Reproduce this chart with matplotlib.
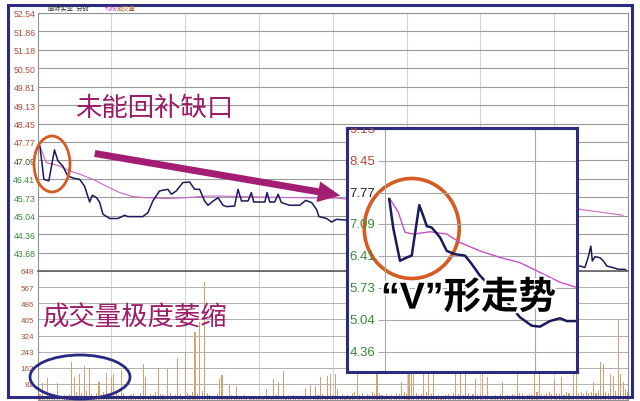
import matplotlib
matplotlib.use('Agg')
import matplotlib.pyplot as plt
import matplotlib.patheffects as pe
from matplotlib.patches import Ellipse, Rectangle, FancyArrowPatch

plt.rcParams['font.family'] = ['Liberation Sans', 'Noto Sans CJK SC', 'DejaVu Sans']

W, H = 640, 402

# ---- main chart (minute, price) ----
price_min = [1, 2.6, 4.6, 6.9, 8.3, 10.3, 12.3, 15.1, 17.1, 19.1, 21.2, 22.3, 23.9, 25.2,
             26.6, 29.3, 32.7, 35.4, 36.7, 42.8, 44.9, 46.9, 49.6, 53.0, 54.4, 56.4, 59.1,
             61.8, 63.9, 65.9, 67.9, 69.3, 71.3, 73.4, 75.4, 76.8, 80.1, 81.5, 82.9, 85.6,
             86.9, 87.9, 92.4, 93.3, 94.4, 96.4, 97.8, 99.1, 102.5, 106.6, 109.0, 111.4,
             113.4, 114.4, 117.5, 119.5, 121.5, 125.6, 140, 160, 180, 200, 220.5, 222.5,
             223.8, 224.9, 225.5, 226.6, 228.6, 230.0, 231.4, 234.1, 236.1, 238.8, 239.5]
price_val = [47.60, 46.39, 46.33, 47.48, 47.07, 46.88, 46.51, 46.42, 46.39, 46.14, 45.55,
             45.80, 45.72, 45.55, 45.10, 44.94, 44.94, 45.06, 45.01, 45.01, 45.16, 45.59,
             45.96, 46.02, 45.84, 45.96, 46.27, 46.29, 46.02, 46.02, 45.59, 45.43, 45.58,
             45.71, 45.43, 45.38, 45.40, 46.02, 45.59, 45.59, 45.90, 45.55, 45.55, 45.90,
             45.55, 45.55, 45.84, 45.53, 45.43, 45.43, 45.61, 45.53, 45.28, 45.01, 44.94,
             44.81, 44.91, 44.88, 44.60, 44.20, 43.90, 43.50, 43.18, 43.13, 43.50, 43.92,
             43.37, 43.53, 43.49, 43.37, 43.18, 43.12, 43.06, 43.06, 43.00]
avg_min = [1, 3.5, 6.2, 9.0, 13.0, 17.1, 22.5, 27.9, 33.4, 38.8, 44.2, 52.4, 60.5, 68.6,
           74.0, 98.5, 122.9, 125.6, 160, 200, 220.5, 238]
avg_val = [47.61, 47.01, 46.95, 46.88, 46.70, 46.58, 46.39, 46.14, 45.90, 45.75, 45.71,
           45.68, 45.71, 45.77, 45.77, 45.72, 45.69, 45.65, 45.45, 45.32, 45.28, 45.06]

price_ticks = [52.54, 51.86, 51.18, 50.50, 49.81, 49.13, 48.45, 47.77, 47.09, 46.41,
               45.73, 45.04, 44.36, 43.68]
vol_ticks = [648, 567, 486, 405, 324, 243, 162, 81]

volume = [141, 30, 85, 20, 110, 25, 15, 30, 85, 20,
          15, 25, 10, 30, 191, 115, 40, 130, 35, 171,
          45, 161, 30, 20, 35, 90, 25, 40, 136, 30,
          115, 130, 45, 25, 151, 35, 20, 15, 25, 30,
          20, 15, 35, 181, 115, 20, 30, 25, 40, 161,
          30, 25, 20, 156, 35, 15, 25, 211, 30, 20,
          236, 35, 25, 40, 341, 30, 392, 45, 592, 35,
          25, 15, 20, 30, 105, 125, 20, 15, 75, 25,
          20, 70, 15, 10, 25, 15, 20, 10, 15, 20,
          10, 15, 20, 55, 15, 20, 105, 25, 90, 15,
          146, 20, 15, 10, 25, 20, 15, 10, 20, 60,
          15, 75, 20, 70, 25, 115, 30, 20, 120, 130,
          25, 130, 55, 20, 30, 15, 25, 20, 35, 40,
          160, 25, 35, 20, 30, 25, 40, 30, 170, 35,
          25, 20, 30, 15, 25, 20, 35, 30, 90, 40,
          30, 180, 200, 160, 35, 25, 30, 150, 40, 175,
          30, 165, 20, 25, 15, 20, 25, 30, 20, 35,
          190, 30, 160, 25, 150, 35, 20, 30, 105, 25,
          30, 170, 25, 115, 20, 15, 25, 20, 30, 90,
          20, 25, 15, 30, 25, 150, 35, 30, 20, 25,
          30, 25, 175, 40, 155, 30, 25, 35, 40, 30,
          105, 35, 30, 115, 25, 40, 35, 20, 160, 150,
          35, 40, 30, 45, 35, 40, 90, 35, 45, 191,
          181, 40, 35, 130, 120, 45, 407, 130, 90, 55,
          40]

# ---- inset chart ----
inset_min = [1.7, 3.3, 6.0, 8.7, 10.7, 13.7, 15.3, 16.7, 18.7, 22.0, 24.7, 28.0, 32.0,
             34.7, 38.0, 42.0, 46.0, 50.0, 54.0, 58.7, 62.0, 66.0, 70.0, 72.7, 76.7]
inset_val = [7.63, 7.01, 6.31, 6.38, 6.42, 7.50, 7.27, 7.05, 7.02, 6.81, 6.52, 6.45, 6.42,
             6.24, 5.99, 5.77, 5.63, 5.35, 5.10, 4.92, 4.90, 5.02, 5.08, 5.02, 5.02]
inset_avg_min = [2, 5.3, 8, 11.3, 18, 24.7, 30, 38, 46, 54, 62, 70, 76.7]
inset_avg_val = [7.63, 7.35, 6.92, 6.88, 6.93, 6.88, 6.70, 6.52, 6.38, 6.27, 6.06, 5.85, 5.74]
inset_ticks = [9.13, 8.45, 7.77, 7.09, 6.41, 5.73, 5.04, 4.36]


def box(x0, y0, x1, y1):
    return [x0 / W, 1 - y1 / H, (x1 - x0) / W, (y1 - y0) / H]


def fp(x, y):
    return (x / W, 1 - y / H)


fig = plt.figure(figsize=(6.4, 4.02), dpi=100)
fig.patch.set_facecolor('white')

# price panel
ax = fig.add_axes(box(37.5, 14, 628, 272))
ax.plot(avg_min, avg_val, color='#c866c8', lw=0.8)
ax.plot(price_min, price_val, color='#1a1a5a', lw=1.1)
ax.set_xlim(0, 240)
ax.set_ylim(52.54 - 14 * 0.6815, 52.54)
ax.set_yticks(price_ticks)
ax.set_yticklabels(['%.2f' % v for v in price_ticks], fontsize=6.3)
for lab, v in zip(ax.get_yticklabels(), price_ticks):
    lab.set_color('#b04a3c' if v > 47.5 else ('#4a4a20' if v > 47 else '#3c8a3c'))
ax.set_xticks(range(30, 240, 30))
ax.set_xticklabels([])
ax.tick_params(length=0, pad=1.5)
ax.grid(axis='y', color='#9a9a9a', lw=0.8)
ax.grid(axis='x', color='#d4d4d4', lw=0.8)
for s in ax.spines.values():
    s.set_color('#909090')
ax.set_axisbelow(True)

# volume panel
av = fig.add_axes(box(37.5, 272, 628, 401))
av.bar(range(len(volume)), volume, width=0.45, color='#d6a272')
av.set_xlim(0, 240)
av.set_ylim(0, 648)
av.set_yticks(vol_ticks)
av.set_yticklabels([str(v) for v in vol_ticks], fontsize=5.8, color='#a0523a')
av.set_xticks(range(30, 240, 30))
av.set_xticklabels([])
av.tick_params(length=0, pad=2.5)
av.grid(axis='y', color='#b0b0b0', lw=0.7)
av.grid(axis='x', color='#d4d4d4', lw=0.8)
av.set_axisbelow(True)
for s in av.spines.values():
    s.set_color('#909090')
av.spines['top'].set_color('#606060')
av.spines['top'].set_linewidth(1.2)

# header text (tiny)
fig.text(48 / W, 1 - 9 / H, '国际实业  分时', fontsize=4.5, color='#303030', va='center')
fig.text(105 / W, 1 - 9 / H, '均线', fontsize=4.5, color='#c040c0', va='center')
fig.text(117 / W, 1 - 9 / H, '成交量', fontsize=4.5, color='#b06030', va='center')

# inset
ai = fig.add_axes(box(347, 129, 577, 373))
ai.set_facecolor('white')
ai.set_xlim(-15.2, 76.8)
ai.set_ylim(3.93, 9.15)
ai.hlines(inset_ticks, -3, 76.8, color='#a8a8a8', lw=0.8)
ai.axvline(0, color='#a8a8a8', lw=0.8)
ai.axvline(60, color='#a8a8a8', lw=0.8)
ai.plot(inset_avg_min, inset_avg_val, color='#c850c8', lw=1.0)
ai.plot(inset_min, inset_val, color='#1a1a5a', lw=1.8)
for v in inset_ticks:
    c = '#b84a3a' if v > 8 else ('#202020' if v > 7.5 else '#3a8a3a')
    ai.text(-14.2, v, '%.2f' % v, fontsize=9.5, color=c, va='center', ha='left', clip_on=True)
ai.set_xticks([])
ai.set_yticks([])
for s in ai.spines.values():
    s.set_color('#2b2b80')
    s.set_linewidth(2.2)
ai.text(-1.6, 5.5, '“V”形走势', fontsize=27, fontweight='bold', color='black', va='center',
        ha='left', path_effects=[pe.withStroke(linewidth=3, foreground='white')])
ai.add_patch(Ellipse((10.7, 7.0), 95 / 2.5, 100 / 46.75, fill=False,
                     edgecolor='#d65a22', lw=2.6, clip_on=False))

# annotations in figure coordinates
fig.patches.append(Ellipse(fp(52, 165), 36 / W, 56 / H, transform=fig.transFigure, fill=False,
                           edgecolor='#d65a22', lw=2.0))
fig.patches.append(Ellipse(fp(80, 378), 100 / W, 44 / H, transform=fig.transFigure, fill=False,
                           edgecolor='#2a2a86', lw=2.0))
fig.patches.append(FancyArrowPatch(fp(92, 154), fp(343, 197), transform=fig.transFigure,
                                   arrowstyle='simple,tail_width=0.5,head_width=1.5,head_length=1.6',
                                   mutation_scale=10, color='#a31e72', lw=0))
fig.text(75 / W, 1 - 109 / H, '未能回补缺口', fontsize=19, color='#9c1c68', va='center')
fig.text(42 / W, 1 - 318 / H, '成交量极度萎缩', fontsize=19, color='#9c1c68', va='center')

# outer frame
fig.patches.append(Rectangle(fp(8, 398), 624 / W, 392 / H, transform=fig.transFigure,
                             fill=False, edgecolor='#2b2b80', lw=2.2))

fig.savefig('out.png', dpi=100)
